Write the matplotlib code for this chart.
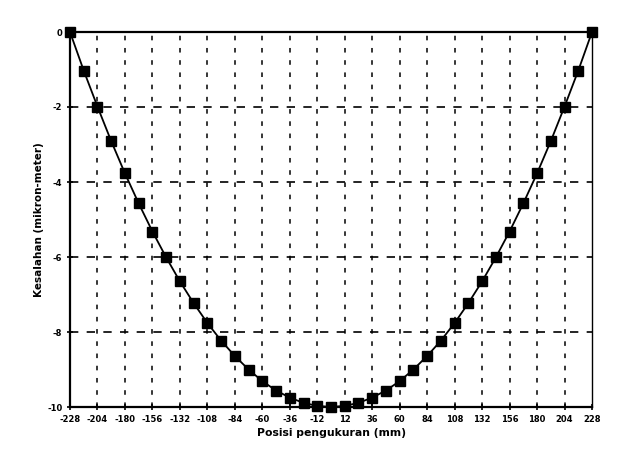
import matplotlib
matplotlib.use("Agg")
import matplotlib.pyplot as plt

# measurement positions (mm)
posisi = [-228, -216, -204, -192, -180, -168, -156, -144, -132, -120,
          -108, -96, -84, -72, -60, -48, -36, -24, -12, 0,
          12, 24, 36, 48, 60, 72, 84, 96, 108, 120,
          132, 144, 156, 168, 180, 192, 204, 216, 228]
# error (micron-meter)
kesalahan = [0.0, -1.03, -1.99, -2.91, -3.77, -4.57, -5.32, -6.01, -6.65, -7.23,
             -7.76, -8.23, -8.64, -9.00, -9.31, -9.56, -9.75, -9.89, -9.97, -10.0,
             -9.97, -9.89, -9.75, -9.56, -9.31, -9.00, -8.64, -8.23, -7.76, -7.23,
             -6.65, -6.01, -5.32, -4.57, -3.77, -2.91, -1.99, -1.03, 0.0]

x_ticks = [-228, -204, -180, -156, -132, -108, -84, -60, -36, -12,
           12, 36, 60, 84, 108, 132, 156, 180, 204, 228]
y_ticks = [-10, -8, -6, -4, -2, 0]

fig = plt.figure(figsize=(6.37, 4.65), dpi=100)
ax = fig.add_axes([70 / 637, 58 / 465, 522 / 637, 375 / 465])

# grid lines
for xv in x_ticks[1:-1]:
    ax.axvline(xv, color='black', lw=1.1, ls=(0, (3, 5)), zorder=1)
for yv in y_ticks[1:-1]:
    ax.axhline(yv, color='black', lw=1.2, ls=(0, (5, 5)), zorder=1)

ax.plot(posisi, kesalahan, color='black', lw=1.3, marker='s',
        markersize=6.5, markerfacecolor='black', zorder=3, clip_on=False)

ax.set_xlim(-228, 228)
ax.set_ylim(-10, 0)
ax.set_xticks(x_ticks)
ax.set_yticks(y_ticks)
ax.set_xticklabels([str(v) for v in x_ticks], fontsize=6, fontweight='bold')
ax.set_yticklabels([str(v) for v in y_ticks], fontsize=6, fontweight='bold')
ax.tick_params(direction='inout', length=5, width=1.2, pad=3)

for side in ['left', 'bottom', 'top']:
    ax.spines[side].set_linewidth(1.6)
ax.spines['right'].set_linewidth(1.0)

ax.set_xlabel('Posisi pengukuran (mm)', fontsize=7.8, fontweight='bold', labelpad=3)
ax.set_ylabel('Kesalahan (mikron-meter)', fontsize=7.5, fontweight='bold', labelpad=2)

fig.savefig('out.png', dpi=100, facecolor='white')
